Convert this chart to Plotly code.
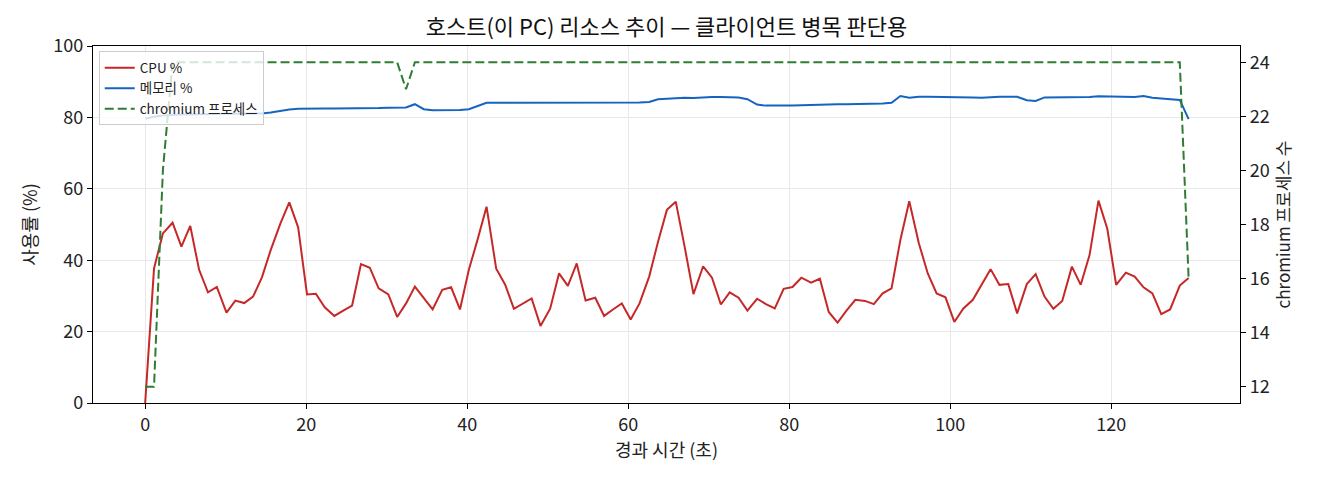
import plotly.graph_objects as go

# 샘플 시각 (초)
elapsed_sec = [
    0.0, 1.1, 2.2, 3.4, 4.5, 5.6, 6.7, 7.8, 8.9, 10.1, 11.2, 12.3, 13.4, 14.5, 15.6, 16.8,
    17.9, 19.0, 20.1, 21.2, 22.3, 23.5, 24.6, 25.7, 26.8, 27.9, 29.0, 30.2, 31.3, 32.4, 33.5,
    34.6, 35.7, 36.9, 38.0, 39.1, 40.2, 41.3, 42.4, 43.6, 44.7, 45.8, 46.9, 48.0, 49.1, 50.3,
    51.4, 52.5, 53.6, 54.7, 55.9, 57.0, 58.1, 59.2, 60.3, 61.4, 62.6, 63.7, 64.8, 65.9, 67.0,
    68.1, 69.3, 70.4, 71.5, 72.6, 73.7, 74.8, 76.0, 77.1, 78.2, 79.3, 80.4, 81.5, 82.7, 83.8,
    84.9, 86.0, 87.1, 88.2, 89.4, 90.5, 91.6, 92.7, 93.8, 94.9, 96.1, 97.2, 98.3, 99.4, 100.5,
    101.6, 102.8, 103.9, 105.0, 106.1, 107.2, 108.3, 109.5, 110.6, 111.7, 112.8, 113.9, 115.1,
    116.2, 117.3, 118.4, 119.5, 120.6, 121.8, 122.9, 124.0, 125.1, 126.2, 127.3, 128.5, 129.6,
]

cpu_pct = [
    0, 37.7, 47.5, 50.5, 43.8, 49.6, 37.3, 31.0, 32.5, 25.3, 28.7, 28.0, 29.8, 35.2, 42.9,
    50.3, 56.2, 49.2, 30.4, 30.6, 26.8, 24.4, 25.9, 27.3, 38.9, 37.9, 32.1, 30.4, 24.1, 27.9,
    32.6, 29.5, 26.2, 31.7, 32.4,
    26.2, 37.3, 45.9, 55.0, 37.6, 33.2, 26.4, 27.9, 29.3, 21.6, 26.4, 36.3, 32.8, 39.1, 28.7,
    29.5, 24.4, 26.2, 27.9, 23.4, 27.9, 35.4, 45.2, 54.1, 56.4, 43.8, 30.5, 38.3, 35.1, 27.6,
    31.0, 29.5, 25.9, 29.2, 27.7, 26.5, 32.0, 32.5, 35.1, 33.7, 34.8, 25.5, 22.5,
    25.9, 28.9, 28.6, 27.7, 30.7, 32.1, 45.7, 56.5, 44.7, 36.3, 30.7, 29.6, 22.7, 26.4, 28.9,
    33.3, 37.5, 33.1, 33.3, 25.1, 33.3, 36.1, 29.8, 26.4, 28.6, 38.2, 33.1, 41.5, 56.7, 48.8,
    33.1, 36.5, 35.4, 32.4, 30.7, 24.9, 26.2, 32.9, 35.0,
]

mem_pct = [
    79.6, 80.2, 80.5, 80.7, 80.8, 80.8, 80.9, 80.9, 81.0, 81.0, 81.0, 81.0, 81.0, 81.1, 81.4,
    81.9, 82.2, 82.4, 82.5, 82.5, 82.5, 82.5, 82.5, 82.4, 82.4, 82.5, 82.6, 82.7, 82.7, 82.8,
    83.7, 82.3, 82.0, 82.0, 82.0, 82.1, 82.3, 83.3, 84.1,
    84.1, 84.1, 84.2, 84.2, 84.2, 84.1, 84.1, 84.0, 84.1, 84.1, 84.1, 84.2, 84.1, 84.1, 84.1,
    84.2, 84.2, 84.3, 85.1, 85.2, 85.4, 85.5, 85.4, 85.6, 85.7, 85.7, 85.7, 85.6, 85.1, 83.6,
    83.3, 83.2, 83.3, 83.3, 83.4, 83.5, 83.7, 83.7, 83.7, 83.7, 83.7, 83.8, 83.8, 83.9, 84.1,
    86.0, 85.5, 85.8, 85.8, 85.8, 85.8, 85.8, 85.7, 85.6, 85.5, 85.7, 85.8, 85.8, 85.8, 84.8,
    84.6, 85.6, 85.6, 85.5, 85.6, 85.6, 85.7, 85.9, 85.8, 85.8, 85.8, 85.7, 86.0, 85.5, 85.3,
    85.2, 84.9, 79.5,
]

chromium_procs = [12, 12, 20] + [24] * 26 + [23] + [24] * 86 + [16]

FONT = "Noto Sans CJK KR"
TICK_SIZE = 18
LABEL_SIZE = 18

fig = go.Figure()

fig.add_trace(go.Scatter(x=elapsed_sec, y=cpu_pct, mode="lines", name="CPU %",
                         line=dict(color="#c62828", width=2)))
fig.add_trace(go.Scatter(x=elapsed_sec, y=mem_pct, mode="lines", name="메모리 %",
                         line=dict(color="#1565c0", width=2)))
fig.add_trace(go.Scatter(x=elapsed_sec, y=chromium_procs, mode="lines", name="chromium 프로세스",
                         yaxis="y2", line=dict(color="#2e7d32", width=2, dash="9px,4px")))

fig.update_layout(
    width=1320, height=480,
    margin=dict(l=93, r=80, t=46, b=77),
    paper_bgcolor="white", plot_bgcolor="white",
    font=dict(family=FONT, size=16, color="#222222"),
    title=dict(text="호스트(이 PC) 리소스 추이 — 클라이언트 병목 판단용",
               xref="paper", x=0.5, xanchor="center",
               yref="container", y=1 - 27 / 480, yanchor="middle",
               font=dict(size=22, color="#111111")),
    xaxis=dict(
        range=[-6.48, 135.98], dtick=20, tick0=0,
        title=dict(text="경과 시간 (초)", font=dict(size=LABEL_SIZE), standoff=8),
        showgrid=True, gridcolor="#e8e8e8", gridwidth=1, zeroline=False,
        showline=True, linecolor="black", linewidth=1.3, mirror=True,
        ticks="outside", ticklen=5, tickcolor="black", tickfont=dict(size=TICK_SIZE),
    ),
    yaxis=dict(
        range=[0, 100], dtick=20, tick0=0,
        title=dict(text="사용률 (%)", font=dict(size=LABEL_SIZE), standoff=10),
        showgrid=True, gridcolor="#e8e8e8", gridwidth=1, zeroline=False,
        showline=True, linecolor="black", linewidth=1.3,
        ticks="outside", ticklen=5, tickcolor="black", tickfont=dict(size=TICK_SIZE),
    ),
    yaxis2=dict(
        range=[11.4, 24.6], tickvals=[12, 14, 16, 18, 20, 22, 24],
        overlaying="y", side="right",
        title=dict(text="chromium 프로세스 수", font=dict(size=17), standoff=8),
        showgrid=False, zeroline=False,
        showline=True, linecolor="black", linewidth=1.3,
        ticks="outside", ticklen=5, tickcolor="black", tickfont=dict(size=TICK_SIZE),
    ),
    legend=dict(
        x=0.005, y=0.985, xanchor="left", yanchor="top",
        bgcolor="rgba(255,255,255,0.8)", bordercolor="#cccccc", borderwidth=1,
        font=dict(size=13.5, color="#222222"), tracegroupgap=0, itemwidth=30,
    ),
    showlegend=True,
)

# 페이지 기본 여백(8px) 제거
fig.write_html("out.html", config={"displayModeBar": False},
               post_script="document.body.style.margin='0';")
